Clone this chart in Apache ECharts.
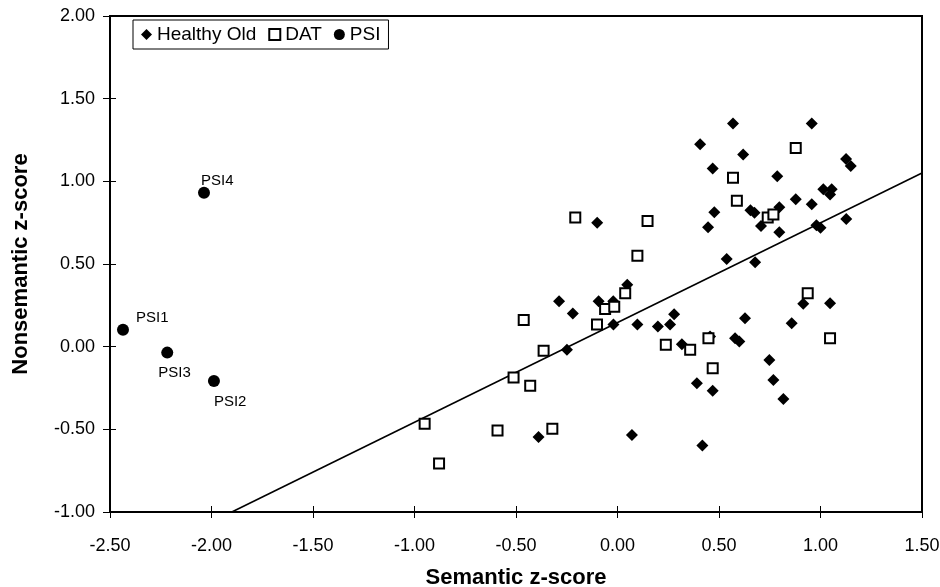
<!DOCTYPE html>
<html>
<head>
<meta charset="utf-8">
<script src="https://cdn.jsdelivr.net/npm/echarts@6/dist/echarts.min.js"></script>
<style>
  html, body { margin: 0; padding: 0; background: #fff; }
  #chart { width: 940px; height: 587px; }
</style>
</head>
<body>
<div id="chart"></div>
<script>
// Healthy Old (filled diamonds): [semantic, nonsemantic]
const healthyOld = [
  [0.569, 1.350], [0.957, 1.350], [0.407, 1.224], [0.619, 1.163], [0.469, 1.078],
  [0.787, 1.030], [1.126, 1.135], [1.149, 1.092], [0.878, 0.891], [0.957, 0.861],
  [1.014, 0.952], [1.055, 0.952], [1.047, 0.921], [0.477, 0.813], [0.446, 0.722],
  [0.655, 0.825], [0.675, 0.810], [0.797, 0.843], [0.707, 0.730], [0.797, 0.692],
  [0.980, 0.735], [1.000, 0.720], [1.127, 0.772], [0.538, 0.530], [0.678, 0.510],
  [-0.100, 0.750], [0.048, 0.375], [-0.288, 0.275], [-0.093, 0.275], [-0.021, 0.275],
  [-0.220, 0.200], [-0.020, 0.134], [0.098, 0.134], [0.199, 0.122], [0.259, 0.134],
  [0.279, 0.196], [-0.249, -0.019], [-0.389, -0.547], [0.071, -0.535],
  [0.317, 0.015], [0.456, 0.061], [0.628, 0.172], [0.579, 0.051], [0.600, 0.031],
  [0.858, 0.142], [0.915, 0.259], [1.047, 0.263], [0.748, -0.080], [0.768, -0.201],
  [0.817, -0.317], [0.391, -0.221], [0.469, -0.267], [0.418, -0.598]
];

// DAT (open squares)
const dat = [
  [-0.208, 0.782], [0.148, 0.760], [0.098, 0.550], [0.038, 0.323], [-0.061, 0.228],
  [-0.016, 0.242], [-0.462, 0.162], [-0.101, 0.134], [0.238, 0.011], [-0.364, -0.025],
  [-0.512, -0.187], [-0.430, -0.237], [-0.950, -0.466], [-0.591, -0.507], [-0.321, -0.497],
  [-0.879, -0.706], [0.937, 0.323], [1.047, 0.051], [0.358, -0.019], [0.448, 0.051],
  [0.469, -0.130], [0.878, 1.201], [0.569, 1.022], [0.588, 0.883], [0.740, 0.782],
  [0.768, 0.800]
];

// PSI patients (filled circles)
const psiNames = ["PSI1", "PSI2", "PSI3", "PSI4"];
const psiX = [-2.436, -1.988, -2.218, -2.037];
const psiY = [0.102, -0.207, -0.036, 0.931];

// regression line end points as drawn
const trendX = [-1.9, 1.5];
const trendY = [-1.0, 1.05];

const xTicks = { min: -2.5, max: 1.5, step: 0.5 };
const yTicks = { min: -1.0, max: 2.0, step: 0.5 };

// where each PSI label sits relative to its dot
const psiLabelOffset = { PSI1: [13, -12], PSI2: [0, 21], PSI3: [-9, 20], PSI4: [-3, -12] };

const font = "'Liberation Sans', Arial, Helvetica, sans-serif";
const chart = echarts.init(document.getElementById("chart"), null, { renderer: "canvas" });

const fmt = v => v.toFixed(2);

const baseX = {
  type: "value",
  min: xTicks.min,
  max: xTicks.max,
  interval: xTicks.step,
  position: "bottom",
  splitLine: { show: false }
};
const baseY = {
  type: "value",
  min: yTicks.min,
  max: yTicks.max,
  interval: yTicks.step,
  position: "left",
  splitLine: { show: false }
};

const option = {
  animation: false,
  backgroundColor: "#fff",
  textStyle: { fontFamily: font },
  grid: {
    left: 110, right: 18, top: 16, bottom: 75,
    show: true, borderColor: "#000", borderWidth: 2,
    outerBoundsMode: "none"
  },
  legend: {
    left: 133, top: 20,
    orient: "horizontal",
    data: ["Healthy Old", "DAT", "PSI"],
    itemWidth: 11, itemHeight: 11, itemGap: 12,
    padding: [5, 8],
    borderColor: "#000", borderWidth: 1,
    selectedMode: false,
    textStyle: { fontFamily: font, fontSize: 19, color: "#000" }
  },
  xAxis: [
    Object.assign({}, baseX, {
      name: "Semantic z-score",
      nameLocation: "middle",
      nameGap: 55,
      nameTextStyle: { fontFamily: font, fontSize: 22, fontWeight: "bold", color: "#000" },
      axisLine: { onZero: false, lineStyle: { color: "#000", width: 2 } },
      axisTick: { inside: false, length: 6, lineStyle: { color: "#000", width: 1 } },
      axisLabel: { margin: 25, fontSize: 18, color: "#000", fontFamily: font, formatter: fmt }
    }),
    Object.assign({}, baseX, {
      axisLine: { show: false, onZero: false },
      axisTick: { inside: true, length: 6, lineStyle: { color: "#000", width: 1 } },
      axisLabel: { show: false }
    })
  ],
  yAxis: [
    Object.assign({}, baseY, {
      name: "Nonsemantic z-score",
      nameLocation: "middle",
      nameGap: 78,
      nameTextStyle: { fontFamily: font, fontSize: 22, fontWeight: "bold", color: "#000" },
      axisLine: { onZero: false, lineStyle: { color: "#000", width: 2 } },
      axisTick: { inside: false, length: 7, lineStyle: { color: "#000", width: 1 } },
      axisLabel: { margin: 15, fontSize: 18, color: "#000", fontFamily: font, formatter: fmt }
    }),
    Object.assign({}, baseY, {
      axisLine: { show: false, onZero: false },
      axisTick: { inside: true, length: 6, lineStyle: { color: "#000", width: 1 } },
      axisLabel: { show: false }
    })
  ],
  series: [
    {
      name: "trend",
      type: "line",
      data: trendX.map((x, i) => [x, trendY[i]]),
      symbol: "none",
      silent: true,
      lineStyle: { color: "#000", width: 1.6 },
      z: 1
    },
    {
      name: "Healthy Old",
      type: "scatter",
      symbol: "diamond",
      symbolSize: 12,
      data: healthyOld,
      itemStyle: { color: "#000", opacity: 1 },
      z: 3
    },
    {
      name: "DAT",
      type: "scatter",
      symbol: "rect",
      symbolSize: 10,
      data: dat,
      itemStyle: { color: "#fff", borderColor: "#000", borderWidth: 2, opacity: 1 },
      z: 4
    },
    {
      name: "PSI",
      type: "scatter",
      symbol: "circle",
      symbolSize: 12,
      data: psiNames.map((n, i) => ({
        name: n,
        value: [psiX[i], psiY[i]],
        label: { offset: psiLabelOffset[n] }
      })),
      itemStyle: { color: "#000", opacity: 1 },
      label: {
        show: true,
        position: "inside",
        align: "left",
        verticalAlign: "middle",
        formatter: "{b}",
        fontFamily: font,
        fontSize: 15,
        color: "#000",
        opacity: 1
      },
      z: 5
    }
  ]
};

chart.setOption(option);
</script>
</body>
</html>
